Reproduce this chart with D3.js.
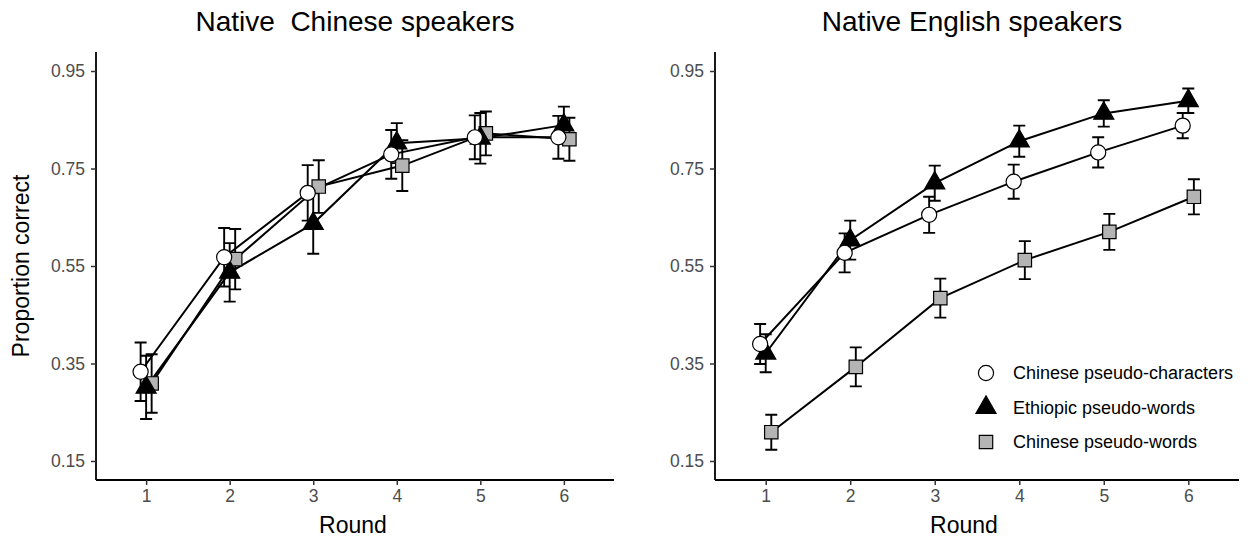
<!DOCTYPE html>
<html>
<head>
<meta charset="utf-8">
<script src="https://cdn.jsdelivr.net/npm/d3@7"></script>
<style>
  body { margin: 0; background: #fff; }
  svg { font-family: "Liberation Sans", Arial, sans-serif; }
  .title { white-space: pre; }
</style>
</head>
<body>
<svg id="chart" width="1255" height="540"></svg>
<script>
// data
const rounds = [1, 2, 3, 4, 5, 6];
const yTicks = [0.15, 0.35, 0.55, 0.75, 0.95];
const seriesNames = ["Chinese pseudo-characters", "Ethiopic pseudo-words", "Chinese pseudo-words"];

// Native Chinese speakers
const cnChars = [0.333, 0.568, 0.700, 0.779, 0.814, 0.814];
const cnCharsErr = [0.060, 0.060, 0.057, 0.050, 0.045, 0.044];
const cnEthiopic = [0.301, 0.537, 0.637, 0.802, 0.812, 0.839];
const cnEthiopicErr = [0.065, 0.060, 0.062, 0.041, 0.052, 0.038];
const cnWords = [0.309, 0.564, 0.713, 0.756, 0.822, 0.810];
const cnWordsErr = [0.060, 0.062, 0.054, 0.052, 0.045, 0.044];

// Native English speakers
const enChars = [0.390, 0.577, 0.655, 0.723, 0.783, 0.838];
const enCharsErr = [0.041, 0.040, 0.037, 0.035, 0.031, 0.026];
const enEthiopic = [0.371, 0.603, 0.720, 0.806, 0.863, 0.889];
const enEthiopicErr = [0.039, 0.040, 0.036, 0.032, 0.027, 0.025];
const enWords = [0.209, 0.343, 0.484, 0.562, 0.620, 0.692];
const enWordsErr = [0.036, 0.040, 0.040, 0.039, 0.037, 0.036];

const panels = [
  { title: "Native  Chinese speakers", x0: 96, x1: 614, titleX: 355, yLabel: true, legend: false,
    series: [[cnChars, cnCharsErr], [cnEthiopic, cnEthiopicErr], [cnWords, cnWordsErr]] },
  { title: "Native English speakers", x0: 715, x1: 1239, titleX: 972, yLabel: false, legend: true,
    series: [[enChars, enCharsErr], [enEthiopic, enEthiopicErr], [enWords, enWordsErr]] }
];

const shapes = [
  { type: d3.symbolCircle, size: 180, fill: "#ffffff" },
  { type: d3.symbolTriangle, size: 175, fill: "#000000" },
  { type: d3.symbolSquare, size: 180, fill: "#b4b4b4" }
];
const dodge = [-0.066, 0, 0.066];

const svg = d3.select("#chart");
const plotTop = 52, plotBottom = 480;

const y = d3.scaleLinear().domain([0.111, 0.989]).range([plotBottom, plotTop]);

panels.forEach(p => {
  const x = d3.scaleLinear().domain([0.4, 6.6]).range([p.x0, p.x1]);
  const g = svg.append("g");

  // title
  g.append("text")
    .attr("class", "title")
    .attr("x", p.titleX)
    .attr("y", 31)
    .attr("text-anchor", "middle")
    .attr("font-size", 28)
    .attr("fill", "#000")
    .text(p.title);

  // axes
  const yAxis = g.append("g")
    .attr("transform", `translate(${p.x0},0)`)
    .call(d3.axisLeft(y).tickValues(yTicks).tickFormat(d3.format(".2f")).tickSize(5).tickPadding(6));
  const xAxis = g.append("g")
    .attr("transform", `translate(0,${plotBottom})`)
    .call(d3.axisBottom(x).tickValues(rounds).tickFormat(d3.format("d")).tickSize(5).tickPadding(5));

  [yAxis, xAxis].forEach(a => {
    a.select(".domain").attr("stroke", "#000").attr("stroke-width", 1.8);
    a.selectAll(".tick line").attr("stroke", "#333").attr("stroke-width", 1.5);
    a.selectAll(".tick text").attr("fill", "#4d4d4d").attr("font-size", 17.5)
      .attr("font-family", "Liberation Sans, Arial, sans-serif");
  });
  yAxis.select(".domain").attr("d", `M0,${plotTop}V${plotBottom}`);
  xAxis.select(".domain").attr("d", `M${p.x0},0H${p.x1}`);

  // axis titles
  g.append("text")
    .attr("x", (p.x0 + p.x1) / 2 + (p.legend ? -13 : -2))
    .attr("y", 533)
    .attr("text-anchor", "middle")
    .attr("font-size", 23)
    .text("Round");

  if (p.yLabel) {
    g.append("text")
      .attr("transform", `translate(29,266) rotate(-90)`)
      .attr("text-anchor", "middle")
      .attr("font-size", 23)
      .text("Proportion correct");
  }

  // lines
  p.series.forEach((s, i) => {
    const pts = rounds.map((r, k) => [x(r + dodge[i]), y(s[0][k])]);
    g.append("path")
      .attr("d", d3.line()(pts))
      .attr("fill", "none")
      .attr("stroke", "#000")
      .attr("stroke-width", 2);
  });

  // error bars
  p.series.forEach((s, i) => {
    rounds.forEach((r, k) => {
      const cx = x(r + dodge[i]);
      const lo = y(s[0][k] - s[1][k]), hi = y(s[0][k] + s[1][k]);
      const path = `M${cx - 6},${hi}H${cx + 6}M${cx},${hi}V${lo}M${cx - 6},${lo}H${cx + 6}`;
      g.append("path").attr("d", path).attr("fill", "none")
        .attr("stroke", "#000").attr("stroke-width", 1.9);
    });
  });

  // points: squares at the back, circles on top
  [2, 1, 0].forEach(i => {
    const s = p.series[i];
    rounds.forEach((r, k) => {
      g.append("path")
        .attr("transform", `translate(${x(r + dodge[i])},${y(s[0][k])})`)
        .attr("d", d3.symbol().type(shapes[i].type).size(shapes[i].size)())
        .attr("fill", shapes[i].fill)
        .attr("stroke", "#000")
        .attr("stroke-width", 1.2);
    });
  });

  if (p.legend) {
    const lg = g.append("g");
    const rowsY = [373, 407.5, 442];
    seriesNames.forEach((name, i) => {
      lg.append("path")
        .attr("transform", `translate(986,${rowsY[i]})`)
        .attr("d", d3.symbol().type(shapes[i].type).size(shapes[i].size)())
        .attr("fill", shapes[i].fill)
        .attr("stroke", "#000")
        .attr("stroke-width", 1.2);
      lg.append("text")
        .attr("x", 1013)
        .attr("y", rowsY[i])
        .attr("dy", "0.35em")
        .attr("font-size", 18)
        .text(name);
    });
  }
});
</script>
</body>
</html>
